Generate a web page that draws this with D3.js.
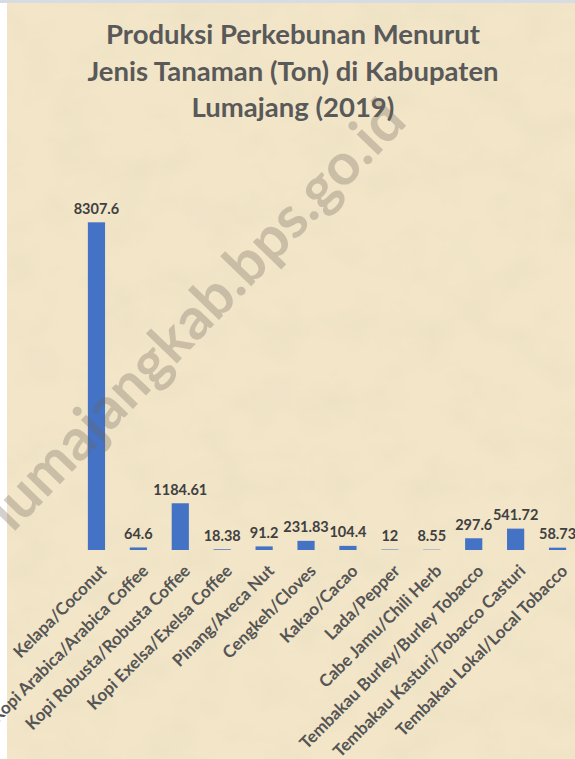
<!DOCTYPE html>
<html>
<head>
<meta charset="utf-8">
<script src="https://cdn.jsdelivr.net/npm/d3@7"></script>
<style>
  html, body { margin: 0; padding: 0; background: #fff; }
  svg { display: block; }
</style>
</head>
<body>
<div id="chart"></div>
<script>
// data
const categories = [
  "Kelapa/Coconut",
  "Kopi Arabica/Arabica Coffee",
  "Kopi Robusta/Robusta Coffee",
  "Kopi Exelsa/Exelsa Coffee",
  "Pinang/Areca Nut",
  "Cengkeh/Cloves",
  "Kakao/Cacao",
  "Lada/Pepper",
  "Cabe Jamu/Chili Herb",
  "Tembakau Burley/Burley Tobacco",
  "Tembakau Kasturi/Tobacco Casturi",
  "Tembakau Lokal/Local Tobacco"
];
const values = [8307.6, 64.6, 1184.61, 18.38, 91.2, 231.83, 104.4, 12, 8.55, 297.6, 541.72, 58.73];
const valueLabels = ["8307.6", "64.6", "1184.61", "18.38", "91.2", "231.83", "104.4", "12", "8.55", "297.6", "541.72", "58.73"];
const titleLines = ["Produksi Perkebunan Menurut", "Jenis Tanaman (Ton) di Kabupaten", "Lumajang (2019)"];
const watermark = "lumajangkab.bps.go.id";

const W = 575, H = 759;
const baseline = 550;
const font = "Lato, 'Open Sans', sans-serif";

const svg = d3.select("#chart")
  .append("svg")
    .attr("width", W)
    .attr("height", H);

// parchment texture
const defs = svg.append("defs");
const f = defs.append("filter").attr("id", "paper")
  .attr("x", 0).attr("y", 0).attr("width", "100%").attr("height", "100%");
f.append("feTurbulence")
  .attr("type", "fractalNoise")
  .attr("baseFrequency", "0.02 0.026")
  .attr("numOctaves", 5)
  .attr("seed", 7)
  .attr("result", "noise");
f.append("feColorMatrix")
  .attr("in", "noise")
  .attr("type", "matrix")
  .attr("values", "0 0 0 0 0.86  0 0 0 0 0.76  0 0 0 0 0.56  0 0 0 -2.4 1.4")
  .attr("result", "tint");
f.append("feComposite").attr("in", "tint").attr("in2", "SourceGraphic").attr("operator", "over");

svg.append("rect").attr("width", W).attr("height", H).attr("fill", "#fff");
svg.append("rect")
  .attr("x", 7).attr("y", 3)
  .attr("width", W - 7).attr("height", H - 3)
  .attr("fill", "#f2e5c8")
  .attr("filter", "url(#paper)");
svg.append("rect").attr("x", 0).attr("y", 0).attr("width", W).attr("height", 3).attr("fill", "#d7dce2");

// title
svg.append("g").selectAll("text")
  .data(titleLines)
  .join("text")
    .attr("x", 293)
    .attr("y", (d, i) => 44 + i * 36.5)
    .attr("text-anchor", "middle")
    .attr("font-family", font)
    .attr("font-weight", "bold")
    .attr("font-size", 27.5)
    .attr("fill", "#595959")
    .text(d => d);

// scales
const x = d3.scaleBand()
  .domain(categories)
  .range([75.5, 578.5])
  .paddingInner(0.59)
  .paddingOuter(0.295);

const y = d3.scaleLinear()
  .domain([0, 9000])
  .range([baseline, 195]);

// bars
svg.append("g").selectAll("rect")
  .data(categories)
  .join("rect")
    .attr("x", d => x(d))
    .attr("y", (d, i) => y(values[i]))
    .attr("width", x.bandwidth())
    .attr("height", (d, i) => baseline - y(values[i]))
    .attr("fill", "#4472c4");

// value labels
svg.append("g").selectAll("text")
  .data(categories)
  .join("text")
    .attr("x", d => x(d) + x.bandwidth() / 2)
    .attr("y", (d, i) => y(values[i]) - 8.5)
    .attr("text-anchor", "middle")
    .attr("font-family", font)
    .attr("font-weight", "bold")
    .attr("font-size", 14.5)
    .attr("fill", "#404040")
    .text((d, i) => valueLabels[i]);

// category axis (no line, no ticks)
const xAxis = svg.append("g")
  .attr("transform", `translate(0,${baseline})`)
  .call(d3.axisBottom(x).tickSize(0).tickPadding(0));
xAxis.select(".domain").remove();
xAxis.selectAll("text")
  .attr("font-family", font)
  .attr("font-weight", "bold")
  .attr("font-size", 17)
  .attr("fill", "#555555")
  .attr("text-anchor", "end")
  .attr("dy", null)
  .attr("transform", "translate(11,22) rotate(-45)");

// watermark
svg.append("text")
  .attr("transform", "translate(200,318) rotate(-46)")
  .attr("text-anchor", "middle")
  .attr("dominant-baseline", "middle")
  .attr("font-family", font)
  .attr("font-weight", "bold")
  .attr("font-size", 58)
  .attr("fill", "#6e6458")
  .attr("fill-opacity", 0.3)
  .text(watermark);
</script>
</body>
</html>
